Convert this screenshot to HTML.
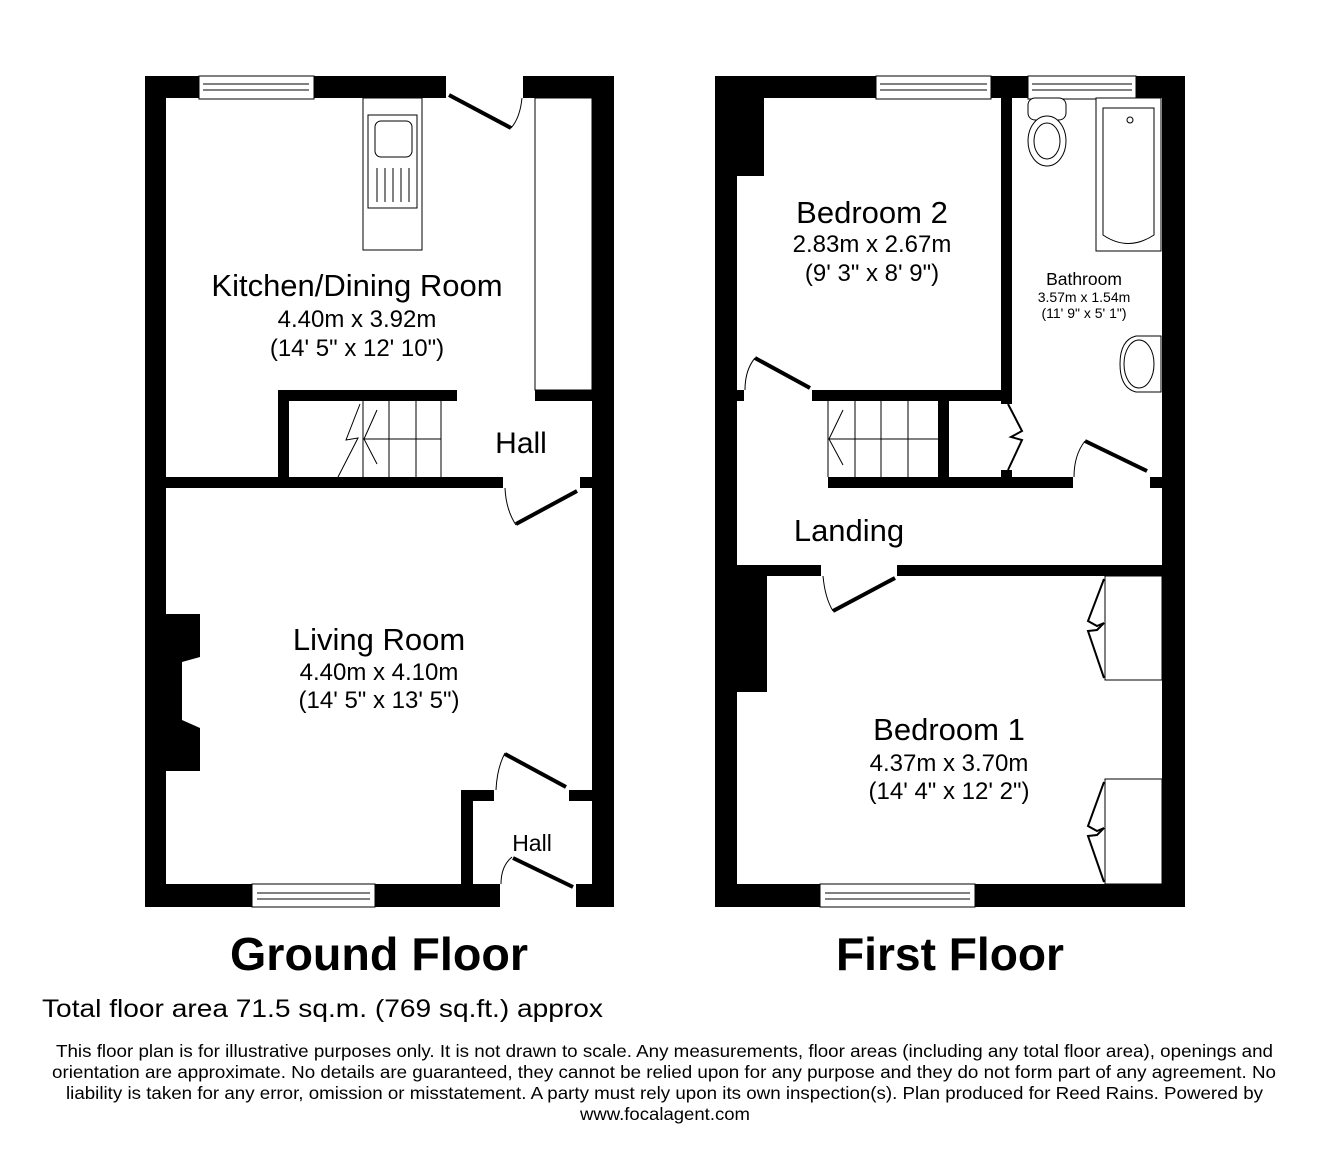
<!DOCTYPE html>
<html><head><meta charset="utf-8"><style>html,body{margin:0;padding:0;background:#fff}svg{display:block}</style></head><body>
<svg width="1328" height="1151" viewBox="0 0 1328 1151" xmlns="http://www.w3.org/2000/svg" font-family="Liberation Sans, Arial, sans-serif">
<rect width="1328" height="1151" fill="#fff"/>
<!-- ===== GROUND FLOOR ===== -->
<g fill="#000">
<rect x="145" y="76" width="21" height="831"/>
<rect x="592" y="76" width="22" height="831"/>
<rect x="145" y="76" width="301" height="22"/>
<rect x="523" y="76" width="91" height="22"/>
<rect x="145" y="884" width="355" height="23"/>
<rect x="576" y="884" width="38" height="23"/>
<rect x="166" y="477" width="337" height="11"/>
<rect x="580" y="477" width="12" height="11"/>
<rect x="535" y="390" width="57" height="11"/>
<rect x="278" y="390" width="179" height="11"/>
<rect x="278" y="390" width="11" height="88"/>
<rect x="166" y="614" width="34" height="157"/>
<rect x="461" y="790" width="33" height="11"/>
<rect x="569" y="790" width="23" height="11"/>
<rect x="461" y="790" width="12" height="94"/>
</g>
<polygon points="182,662 200,657 200,728 182,720" fill="#fff"/>
<g fill="#fff" stroke="#000" stroke-width="1">
<rect x="199" y="76" width="115" height="23"/>
<rect x="252" y="884" width="123" height="23"/>
<rect x="363" y="98" width="59" height="152"/>
<rect x="368" y="115" width="49" height="93"/>
<rect x="375" y="121" width="37" height="36" rx="6"/>
<rect x="535" y="98" width="57" height="292"/>
</g>
<g stroke="#000" stroke-width="1" fill="none">
<line x1="203" y1="84" x2="309" y2="84"/><line x1="203" y1="90" x2="309" y2="90"/>
<line x1="257" y1="893" x2="370" y2="893"/><line x1="257" y1="899" x2="370" y2="899"/>
<line x1="377" y1="168" x2="377" y2="202"/><line x1="385" y1="168" x2="385" y2="202"/><line x1="393" y1="168" x2="393" y2="202"/><line x1="401" y1="168" x2="401" y2="202"/><line x1="409" y1="168" x2="409" y2="202"/>
<line x1="363" y1="401" x2="363" y2="477"/><line x1="389" y1="401" x2="389" y2="477"/><line x1="416" y1="401" x2="416" y2="477"/><line x1="441" y1="401" x2="441" y2="477"/>
<line x1="363" y1="439" x2="441" y2="439"/>
<path d="M338,477 L358,438 L346,440 L360,404"/>
<path d="M377,410 L364,439 L377,464"/>
<path d="M522,98 Q520,118 511,128"/>
<path d="M505,488 Q506,510 516,525"/>
<path d="M496,790 Q497,768 505,753"/>
<path d="M501,884 Q501,866 512,857"/>
</g>
<g stroke="#000" stroke-width="4" fill="none">
<line x1="449" y1="95" x2="511" y2="128"/>
<line x1="516" y1="524" x2="577" y2="491"/>
<line x1="505" y1="754" x2="566" y2="787"/>
<line x1="513" y1="858" x2="573" y2="887"/>
</g>
<g text-anchor="middle" fill="#000">
<text x="357" y="296" font-size="31">Kitchen/Dining Room</text>
<text x="357" y="327" font-size="24">4.40m x 3.92m</text>
<text x="357" y="356" font-size="24">(14' 5" x 12' 10")</text>
<text x="521" y="453" font-size="30">Hall</text>
<text x="379" y="650" font-size="31">Living Room</text>
<text x="379" y="680" font-size="24">4.40m x 4.10m</text>
<text x="379" y="708" font-size="24">(14' 5" x 13' 5")</text>
<text x="532" y="851" font-size="23">Hall</text>
</g>
<!-- ===== FIRST FLOOR ===== -->
<g fill="#000">
<rect x="715" y="76" width="22" height="831"/>
<rect x="1162" y="76" width="23" height="831"/>
<rect x="715" y="76" width="470" height="22"/>
<rect x="715" y="884" width="470" height="23"/>
<rect x="737" y="98" width="27" height="78"/>
<rect x="1001" y="98" width="11" height="306"/>
<rect x="812" y="390" width="200" height="11"/>
<rect x="737" y="390" width="7" height="11"/>
<rect x="938" y="401" width="11" height="87"/>
<rect x="828" y="477" width="245" height="11"/>
<rect x="1150" y="477" width="12" height="11"/>
<rect x="1001" y="470" width="11" height="8"/>
<rect x="737" y="565" width="84" height="11"/>
<rect x="897" y="565" width="265" height="11"/>
<rect x="737" y="576" width="30" height="116"/>
</g>
<g fill="#fff" stroke="#000" stroke-width="1">
<rect x="876" y="76" width="115" height="23"/>
<rect x="1028" y="76" width="108" height="23"/>
<rect x="820" y="884" width="155" height="23"/>
<rect x="1028" y="98" width="38" height="22" rx="7"/>
<ellipse cx="1047" cy="141" rx="19" ry="25"/>
<ellipse cx="1047" cy="141" rx="13" ry="18"/>
<rect x="1096" y="98" width="65" height="153"/>
<path d="M1103,108 H1154 V235 Q1128,252 1103,235 Z"/>
<circle cx="1130" cy="120" r="3"/>
<path d="M1161,336 H1136 Q1120,340 1120,364 Q1120,388 1136,392 H1161 Z"/>
<ellipse cx="1139" cy="364" rx="15" ry="24"/>
<rect x="1105" y="576" width="57" height="104"/>
<rect x="1105" y="779" width="57" height="105"/>
</g>
<g stroke="#000" stroke-width="1" fill="none">
<line x1="880" y1="84" x2="987" y2="84"/><line x1="880" y1="90" x2="987" y2="90"/>
<line x1="1032" y1="84" x2="1132" y2="84"/><line x1="1032" y1="90" x2="1132" y2="90"/>
<line x1="825" y1="893" x2="970" y2="893"/><line x1="825" y1="899" x2="970" y2="899"/>
<line x1="828" y1="401" x2="828" y2="477"/><line x1="855" y1="401" x2="855" y2="477"/><line x1="881" y1="401" x2="881" y2="477"/><line x1="908" y1="401" x2="908" y2="477"/>
<line x1="828" y1="439" x2="938" y2="439"/>
<path d="M843,410 L829,439 L843,465"/>
<path d="M745,390 Q745,370 755,358"/>
<path d="M1074,477 Q1074,455 1085,441"/>
<path d="M823,576 Q825,598 833,611"/>
</g>
<g stroke="#000" stroke-width="2" fill="none">
<path d="M1008,404 L1022,431 L1011,437 L1022,440 L1008,470"/>
<path d="M1104,579 L1088,621 L1097,626 L1104,623 L1097,630 L1088,631 L1104,678"/>
<path d="M1104,782 L1088,826 L1097,831 L1104,828 L1097,835 L1088,836 L1104,882"/>
</g>
<g stroke="#000" stroke-width="4" fill="none">
<line x1="755" y1="358" x2="810" y2="388"/>
<line x1="1085" y1="441" x2="1147" y2="471"/>
<line x1="833" y1="611" x2="895" y2="578"/>
</g>
<g text-anchor="middle" fill="#000">
<text x="872" y="223" font-size="31">Bedroom 2</text>
<text x="872" y="252" font-size="24">2.83m x 2.67m</text>
<text x="872" y="281" font-size="24">(9' 3" x 8' 9")</text>
<text x="1084" y="285" font-size="17.5">Bathroom</text>
<text x="1084" y="302" font-size="14">3.57m x 1.54m</text>
<text x="1084" y="318" font-size="14">(11' 9" x 5' 1")</text>
<text x="849" y="541" font-size="31">Landing</text>
<text x="949" y="740" font-size="31">Bedroom 1</text>
<text x="949" y="771" font-size="24">4.37m x 3.70m</text>
<text x="949" y="799" font-size="24">(14' 4" x 12' 2")</text>
</g>
<!-- ===== TITLES / FOOTER ===== -->
<g fill="#000">
<text x="230" y="970" font-size="46" font-weight="bold" textLength="298" lengthAdjust="spacingAndGlyphs">Ground Floor</text>
<text x="836" y="970" font-size="46" font-weight="bold" textLength="228" lengthAdjust="spacingAndGlyphs">First Floor</text>
<text x="42" y="1017" font-size="25" textLength="561" lengthAdjust="spacingAndGlyphs">Total floor area 71.5 sq.m. (769 sq.ft.) approx</text>
<text x="56" y="1057" font-size="17.5" textLength="1217" lengthAdjust="spacingAndGlyphs">This floor plan is for illustrative purposes only. It is not drawn to scale. Any measurements, floor areas (including any total floor area), openings and</text>
<text x="52" y="1078" font-size="17.5" textLength="1224" lengthAdjust="spacingAndGlyphs">orientation are approximate. No details are guaranteed, they cannot be relied upon for any purpose and they do not form part of any agreement. No</text>
<text x="66" y="1099" font-size="17.5" textLength="1197" lengthAdjust="spacingAndGlyphs">liability is taken for any error, omission or misstatement. A party must rely upon its own inspection(s). Plan produced for Reed Rains. Powered by</text>
<text x="580" y="1120" font-size="17.5" textLength="170" lengthAdjust="spacingAndGlyphs">www.focalagent.com</text>
</g>
</svg>
</body></html>
